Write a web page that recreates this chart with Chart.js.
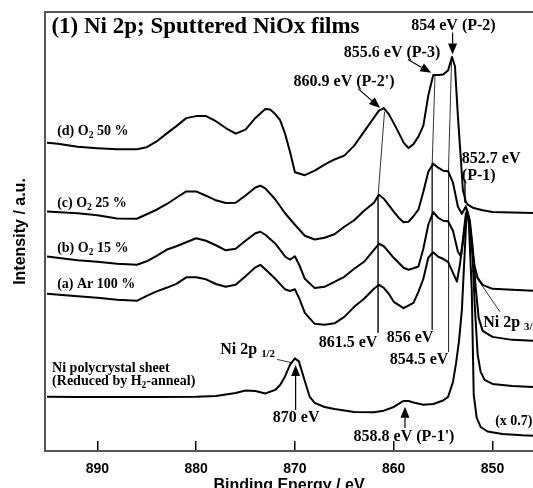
<!DOCTYPE html>
<html lang="en">
<head>
<meta charset="UTF-8">
<title>Ni 2p XPS - Sputtered NiOx films</title>
<script src="https://cdn.jsdelivr.net/npm/chart.js"></script>
<style>
    html, body { margin: 0; padding: 0; background: #FFFFFF; overflow: hidden; }
</style>
</head>
<body>
<canvas id="xps" width="533" height="500"></canvas>
<script>
// binding energy (eV) and intensity (a.u.)
var eD = [895.1,894,892,890,888,886,885,884,883,882,881,880,879,878,877,876,875,874,873,872.5,872,871.5,871,870.5,870,869,868,867,866,865,864,863,862,861.5,861,860.5,860,859.5,859,858.5,858,857.5,857,856.5,856,855.5,855,854.5,854.1,853.8,853.5,853.2,853,852.7,852.5,852,851,850,848,845.9];
var iD = [308,307,304,302.5,301.3,301.5,303.5,309.2,317,324.5,332.5,334.5,334.5,329.4,322.6,317,321,332.7,341.7,341,336.6,330.5,317,299,278.5,275.5,280,286,291.2,295,305,319,333,340,342.5,336.5,327.5,318,308,302.7,306.5,314,325,355,375.5,375.5,376,380,393.5,384.3,334,291,261,249,246,243,240.5,238.8,238.3,237.7];

var eC = [895.1,892,890,888,886,885,884,883,882,881,880,879,878,877,876,875,874,873.5,873,872,871,870,869,868,867,866,865,864,863,862,861.5,861,860.5,860,859.5,859,858.5,858,857.5,857,856.5,856,855.5,855,854.5,854,853.5,853.1,852.7,852.4,852.1,851.8,851.5,851,850,848,845.9];
var iC = [239.3,237.5,235.5,232.2,232,236.5,241,246.5,253,259.3,259.3,255,250.4,247.8,248,255.2,263.2,265,262.4,251.5,237.5,226,215,211.3,213,216.5,224,230.5,240,248,256,252,245.5,239,233,228.5,229,234.5,241,259,279,287,283,280,279.5,268,244,237,244.3,233,206,184,173,166,162,161,160];

var eB = [895.1,892,890,888,886,885,884,883,882,881,880,879,878,877,876,875,874,873.5,873,872,871,870.5,870,869.5,869,868,867,866,865,864,863,862,861.5,861,860,859,858.5,858,857.5,857,856.5,856,855.5,855,854.5,854,853.5,853.2,852.9,852.6,852.3,852,851.7,851.4,851,850,848,845.9];
var iB = [194.3,190.5,189,187,186,189.5,195,201,204.5,208.5,212.5,210,205.5,200.5,202,210,217.5,219,216,207.3,194.3,191,194.5,184.5,172,162.7,164,169,174,182,189,201,207,204.5,193,183,181,182.5,184.3,202,226,238.5,233,230,229.5,220,199,194.5,215,239,231,203,163,133,120,114,111,110];

var eA = [895.1,892,890,888,886,885,884,883,882,881,880,879,878,877,876,875,874,873.5,873,872,871,870.5,870,869.5,869,868,867,866,865,864,863,862,861.5,861,860.5,860,859,858,857.5,857,856.5,856,855.5,855,854.5,854,853.6,853.3,853,852.7,852.5,852.2,852,851.8,851.5,851.2,850.8,850,848,845.9];
var iA = [157,154.5,153,151,150,155,159.5,163,167,173.5,173.5,171.5,166.8,164,166,174.5,183.5,186,181.5,172,161.5,159.8,161.5,151,138,127,126,127.5,134,144,152,162,166,163,157,149,142.7,148,159,172,193,198.5,194,192,189,178,169.3,186,211,237,239,219,191,146,96,79,71,67,65,64];

var eNi = [895.1,892,888,884,880,878,876,875,874,873,872,871.5,871,870.5,870,869.6,869,868.5,868,867,866,864,862,861,860,859,858.5,858,857,856,855,854.5,854,853.7,853.4,853.1,852.8,852.6,852.4,852.1,851.9,851.6,851.2,850.5,849,847,845.9];
var iNi = [54.3,54,54,54,54.3,55,58,60.5,60,57.5,61,66,74.5,86,92.5,89.5,70,54,48,44,42,39,38.7,40.3,44,50,50,48.5,46.2,47,50.5,54,69,87,109,141,201,241,229,161,56,33,24,19.5,17,15.7,15.3];

// thin guide lines joining peak positions: [eV, intensity]
var guide8615 = [[860.93,339],[861.58,255],[861.58,118]];
var guide856 = [[855.82,376],[856.1,288],[856.1,121]];
var guide8545 = [[854.14,391],[854.45,283],[854.45,99]];
var guide8527 = [[852.79,271],[852.79,248]];
var leader32 = [[852.28,183],[849.25,139]];
var leader12 = [[871.8,91.5],[870.28,88]];

var xTicks = [890, 880, 870, 860, 850];

function pts(ex, iy) {
    return ex.map(function(e, k) { return { x: e, y: iy[k] }; });
}
function pairs(list) {
    return list.map(function(p) { return { x: p[0], y: p[1] }; });
}

var SERIF = '"Liberation Serif", "Times New Roman", serif';
var SANS = '"Liberation Sans", Arial, sans-serif';

// text labels: parts are [text, isSubscript]
var notes = [
    { parts: [['(1) Ni 2p; Sputtered NiOx films']], at: [894.65, 423], size: 23, align: 'left' },
    { parts: [['854 eV (P-2)']], at: [853.95, 424.3], size: 16, align: 'center' },
    { parts: [['855.6 eV (P-3)']], at: [860.17, 398], size: 16, align: 'center' },
    { parts: [['860.9 eV (P-2\')']], at: [865.03, 369], size: 16, align: 'center' },
    { parts: [['852.7 eV']], at: [853.1, 292], size: 16, align: 'left' },
    { parts: [['(P-1)']], at: [853.1, 275], size: 16, align: 'left' },
    { parts: [['(d) O'], ['2', true], [' 50 %']], at: [894.07, 319.3], size: 14, align: 'left' },
    { parts: [['(c) O'], ['2', true], [' 25 %']], at: [894.07, 247.7], size: 14, align: 'left' },
    { parts: [['(b) O'], ['2', true], [' 15 %']], at: [894.07, 202.7], size: 14, align: 'left' },
    { parts: [['(a) Ar 100 %']], at: [894.07, 166.7], size: 14, align: 'left' },
    { parts: [['Ni polycrystal sheet']], at: [894.58, 82.7], size: 14, align: 'left' },
    { parts: [['(Reduced by H'], ['2', true], ['-anneal)']], at: [894.58, 69.3], size: 14, align: 'left' },
    { parts: [['Ni 2p '], ['1/2', true]], at: [877.56, 101], size: 16, align: 'left' },
    { parts: [['870 eV']], at: [869.88, 33], size: 16, align: 'center' },
    { parts: [['858.8 eV (P-1\')']], at: [858.96, 14.3], size: 16, align: 'center' },
    { parts: [['(x 0.7)']], at: [847.84, 29.3], size: 14, align: 'center' },
    { parts: [['861.5 eV']], at: [864.62, 108], size: 16, align: 'center' },
    { parts: [['856 eV']], at: [858.35, 113], size: 16, align: 'center' },
    { parts: [['854.5 eV']], at: [857.44, 91], size: 16, align: 'center' },
    { parts: [['Ni 2p '], ['3/2', true]], at: [850.94, 128], size: 16, align: 'left' }
];

// arrows: [from eV, from intensity, to eV, to intensity]
var arrows = [
    [854.04, 418, 854.04, 396],
    [858.55, 391, 856.2, 377.7],
    [863.6, 362, 861.38, 342.7],
    [869.93, 41, 869.93, 86],
    [858.86, 23, 858.86, 44.3]
];

function curve(label, ex, iy) {
    return {
        label: label, data: pts(ex, iy), borderColor: '#000', borderWidth: 2,
        pointRadius: 0, tension: 0, fill: false, borderJoinStyle: 'round'
    };
}
function thin(label, list) {
    return {
        label: label, data: pairs(list), borderColor: '#333', borderWidth: 1,
        pointRadius: 0, tension: 0, fill: false
    };
}

var annotate = {
    id: 'annotate',
    afterDatasetsDraw: function(chart) {
        var ctx = chart.ctx, xs = chart.scales.x, ys = chart.scales.y;
        ctx.save();
        ctx.fillStyle = '#000';
        ctx.strokeStyle = '#000';
        ctx.textBaseline = 'middle';
        ctx.textAlign = 'left';
        notes.forEach(function(n) {
            var x = xs.getPixelForValue(n.at[0]), y = ys.getPixelForValue(n.at[1]);
            var total = 0;
            n.parts.forEach(function(p) {
                ctx.font = 'bold ' + (p[1] ? n.size * 0.68 : n.size) + 'px ' + SERIF;
                total += ctx.measureText(p[0]).width;
            });
            var cx = n.align === 'center' ? x - total / 2 : x;
            n.parts.forEach(function(p) {
                ctx.font = 'bold ' + (p[1] ? n.size * 0.68 : n.size) + 'px ' + SERIF;
                ctx.fillText(p[0], cx, y + (p[1] ? n.size * 0.3 : 0));
                cx += ctx.measureText(p[0]).width;
            });
        });
        arrows.forEach(function(a) {
            var x1 = xs.getPixelForValue(a[0]), y1 = ys.getPixelForValue(a[1]);
            var x2 = xs.getPixelForValue(a[2]), y2 = ys.getPixelForValue(a[3]);
            var ang = Math.atan2(y2 - y1, x2 - x1), hl = 11, hw = 4.5;
            var bx = x2 - hl * Math.cos(ang), by = y2 - hl * Math.sin(ang);
            ctx.lineWidth = 1.2;
            ctx.beginPath(); ctx.moveTo(x1, y1); ctx.lineTo(bx, by); ctx.stroke();
            ctx.beginPath();
            ctx.moveTo(x2, y2);
            ctx.lineTo(bx + hw * Math.sin(ang), by - hw * Math.cos(ang));
            ctx.lineTo(bx - hw * Math.sin(ang), by + hw * Math.cos(ang));
            ctx.closePath(); ctx.fill();
        });
        // top frame line
        var area = chart.chartArea;
        ctx.strokeStyle = '#555';
        ctx.lineWidth = 2;
        ctx.beginPath(); ctx.moveTo(area.left, area.top); ctx.lineTo(area.right, area.top); ctx.stroke();
        ctx.restore();
    }
};

new Chart(document.getElementById('xps').getContext('2d'), {
    type: 'line',
    data: {
        datasets: [
            curve('(d) O2 50 %', eD, iD),
            curve('(c) O2 25 %', eC, iC),
            curve('(b) O2 15 %', eB, iB),
            curve('(a) Ar 100 %', eA, iA),
            curve('Ni polycrystal sheet', eNi, iNi),
            thin('861.5', guide8615),
            thin('856', guide856),
            thin('854.5', guide8545),
            thin('852.7', guide8527),
            thin('2p3/2', leader32),
            thin('2p1/2', leader12)
        ]
    },
    plugins: [annotate],
    options: {
        responsive: false,
        devicePixelRatio: 1,
        animation: false,
        layout: { padding: { top: 12, left: 0, right: 0, bottom: 0 } },
        plugins: { legend: { display: false }, tooltip: { enabled: false } },
        scales: {
            x: {
                type: 'linear',
                reverse: true,
                min: 845.9,
                max: 895.3,
                afterFit: function(s) { s.height = 49; },
                afterBuildTicks: function(s) { s.ticks = xTicks.map(function(v) { return { value: v }; }); },
                ticks: {
                    color: '#000', padding: 20, maxRotation: 0,
                    font: { family: SANS, size: 14, weight: 'bold' }
                },
                grid: {
                    display: true, drawOnChartArea: false, drawTicks: true,
                    tickLength: -10, color: '#000', lineWidth: 1.5
                },
                border: { display: true, color: '#555', width: 2 },
                title: {
                    display: true, text: 'Binding Energy / eV', color: '#000',
                    font: { family: SANS, size: 16, weight: 'bold' },
                    padding: { top: 0, bottom: 5 }
                }
            },
            y: {
                type: 'linear',
                min: 0,
                max: 438.5,
                afterFit: function(s) { s.width = 45; },
                ticks: { display: false },
                grid: { display: false },
                border: { display: true, color: '#555', width: 2 },
                title: {
                    display: true, text: 'Intensity / a.u.', color: '#000',
                    font: { family: SANS, size: 16, weight: 'bold' },
                    padding: { top: 11, bottom: 0 }
                }
            }
        }
    }
});
</script>
</body>
</html>
